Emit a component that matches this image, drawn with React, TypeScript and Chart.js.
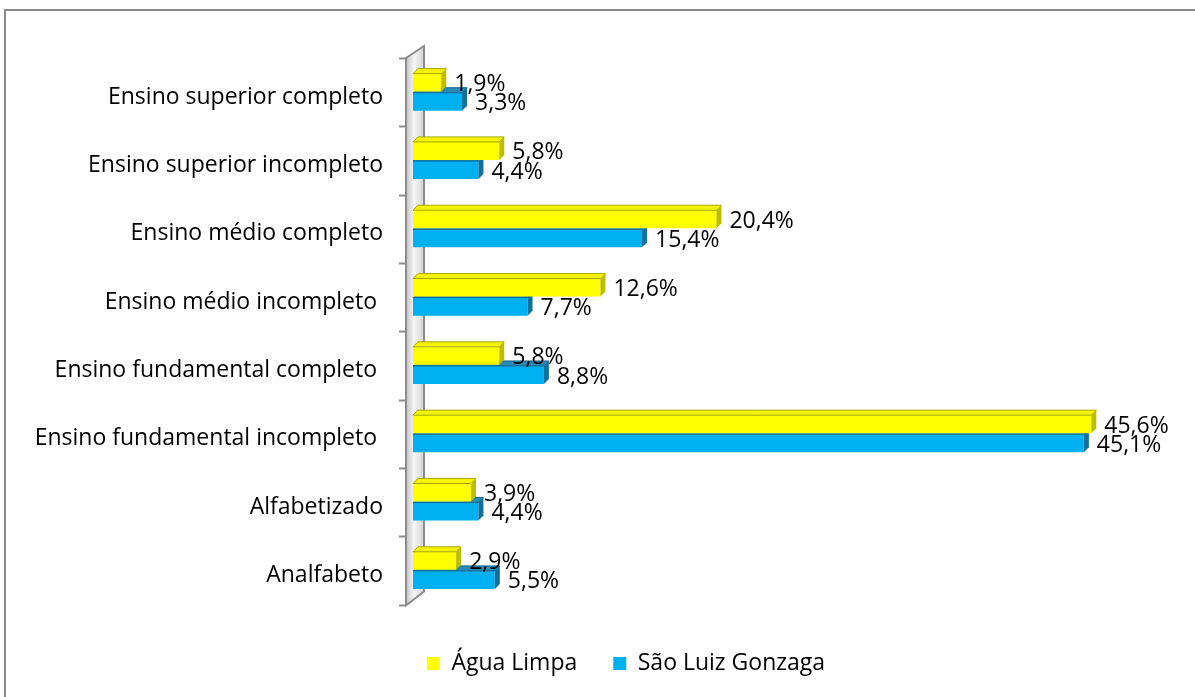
import React, { useEffect, useRef } from "react";
import { Chart, registerables } from "chart.js";

Chart.register(...registerables);

const categories = [
  "Ensino superior completo",
  "Ensino superior incompleto",
  "Ensino médio completo",
  "Ensino médio incompleto ",
  "Ensino fundamental completo ",
  "Ensino fundamental incompleto ",
  "Alfabetizado",
  "Analfabeto",
];
const aguaLimpa = [1.9, 5.8, 20.4, 12.6, 5.8, 45.6, 3.9, 2.9];
const saoLuizGonzaga = [3.3, 4.4, 15.4, 7.7, 8.8, 45.1, 4.4, 5.5];
const seriesNames = ["Água Limpa", "São Luiz Gonzaga"];
const xMax = 56;

const FONT = "'Open Sans', sans-serif";
const FONT_SIZE = 23;
const DX = 5;
const DY = 5;
const frontColors = ["#FFFF00", "#00B0F0"];
const faceColors = [
  { top: "#F4F400", side: "#BDBD00", edge: "#A8A800" },
  { top: "#2B89B6", side: "#12709C", edge: "#0E6690" },
];

const fmt = (v: number) => v.toFixed(1).replace(".", ",") + "%";

const wallPlugin = {
  id: "wall3d",
  beforeDatasetsDraw(chart: any) {
    const { ctx, chartArea } = chart;
    const { left, top, bottom } = chartArea;
    const xf = left - 7;
    const xb = left + 11;
    const ytf = top;
    const ytb = top - 12;
    const ybf = bottom + 1;
    const ybb = bottom - 13;
    ctx.save();
    const g = ctx.createLinearGradient(xf, 0, xb, 0);
    g.addColorStop(0, "#c4c4c4");
    g.addColorStop(0.45, "#f6f6f6");
    g.addColorStop(1, "#d4d4d4");
    ctx.beginPath();
    ctx.moveTo(xf, ytf);
    ctx.lineTo(xb, ytb);
    ctx.lineTo(xb, ybb);
    ctx.lineTo(xf, ybf);
    ctx.closePath();
    ctx.fillStyle = g;
    ctx.fill();
    ctx.strokeStyle = "#8c8c8c";
    ctx.lineWidth = 2;
    ctx.stroke();
    const n = chart.data.labels.length;
    const band = (bottom - top) / n;
    ctx.beginPath();
    for (let k = 0; k <= n; k++) {
      const y = Math.round(top + k * band) + 0.5;
      ctx.moveTo(xf - 7, y);
      ctx.lineTo(xf, y);
    }
    ctx.stroke();
    ctx.restore();
  },
};

const barFacesPlugin = {
  id: "barFaces",
  afterDatasetDraw(chart: any, args: any) {
    const { ctx } = chart;
    const c = faceColors[args.index];
    ctx.save();
    ctx.lineWidth = 1;
    args.meta.data.forEach((el: any) => {
      const { x, y, base, height } = el.getProps(["x", "y", "base", "height"], true);
      const t = y - height / 2;
      const b = y + height / 2;
      ctx.beginPath();
      ctx.moveTo(base, t);
      ctx.lineTo(base + DX, t - DY);
      ctx.lineTo(x + DX, t - DY);
      ctx.lineTo(x, t);
      ctx.closePath();
      ctx.fillStyle = c.top;
      ctx.fill();
      ctx.strokeStyle = c.edge;
      ctx.stroke();
      ctx.beginPath();
      ctx.moveTo(x, t);
      ctx.lineTo(x + DX, t - DY);
      ctx.lineTo(x + DX, b - DY);
      ctx.lineTo(x, b);
      ctx.closePath();
      ctx.fillStyle = c.side;
      ctx.fill();
    });
    ctx.restore();
  },
  afterDatasetsDraw(chart: any) {
    const { ctx } = chart;
    ctx.save();
    ctx.font = `${FONT_SIZE}px ${FONT}`;
    ctx.fillStyle = "#000";
    ctx.textAlign = "left";
    ctx.textBaseline = "middle";
    chart.data.datasets.forEach((ds: any, i: number) => {
      const meta = chart.getDatasetMeta(i);
      meta.data.forEach((el: any, j: number) => {
        const { x, y } = el.getProps(["x", "y"], true);
        ctx.fillText(fmt(ds.data[j]), x + 13, y + 2);
      });
    });
    ctx.restore();
  },
};

export default function App() {
  const ref = useRef<HTMLCanvasElement>(null);
  useEffect(() => {
    document.body.style.overflow = "hidden";
    const chart = new Chart(ref.current as HTMLCanvasElement, {
      type: "bar",
      data: {
        labels: categories,
        datasets: [
          {
            label: seriesNames[0],
            data: aguaLimpa,
            backgroundColor: frontColors[0],
            borderWidth: 0,
            categoryPercentage: 0.56,
            barPercentage: 0.94,
          },
          {
            label: seriesNames[1],
            data: saoLuizGonzaga,
            backgroundColor: frontColors[1],
            borderWidth: 0,
            categoryPercentage: 0.56,
            barPercentage: 0.94,
          },
        ],
      },
      options: {
        indexAxis: "y",
        animation: false,
        responsive: false,
        maintainAspectRatio: false,
        layout: { padding: { top: 47, right: 0, bottom: 26, left: 0 } },
        scales: {
          x: {
            type: "linear",
            position: "bottom",
            min: 0,
            max: xMax,
            ticks: { display: false },
            grid: { display: false, drawTicks: false },
            border: { display: false },
            afterFit: (s: any) => {
              s.height = 11.5;
            },
          },
          y: {
            type: "category",
            grid: { display: false, drawTicks: false },
            border: { display: false },
            ticks: {
              color: "#000",
              padding: 30,
              labelOffset: 5,
              font: { family: FONT, size: FONT_SIZE },
            },
            afterFit: (s: any) => {
              s.width = 407;
            },
          },
        },
        plugins: {
          legend: {
            position: "bottom",
            labels: {
              boxWidth: 13,
              boxHeight: 13,
              padding: 36,
              color: "#000",
              font: { family: FONT, size: FONT_SIZE },
            },
          },
          tooltip: { enabled: false },
        },
      },
      plugins: [wallPlugin, barFacesPlugin],
    } as any);
    return () => chart.destroy();
  }, []);
  return (
    <div
      style={{
        position: "fixed",
        left: 4,
        top: 9,
        border: "2px solid #8a8a8a",
        background: "#fff",
        width: 1240,
        height: 700,
      }}
    >
      <canvas ref={ref} width={1240} height={700} style={{ display: "block" }} />
    </div>
  );
}
